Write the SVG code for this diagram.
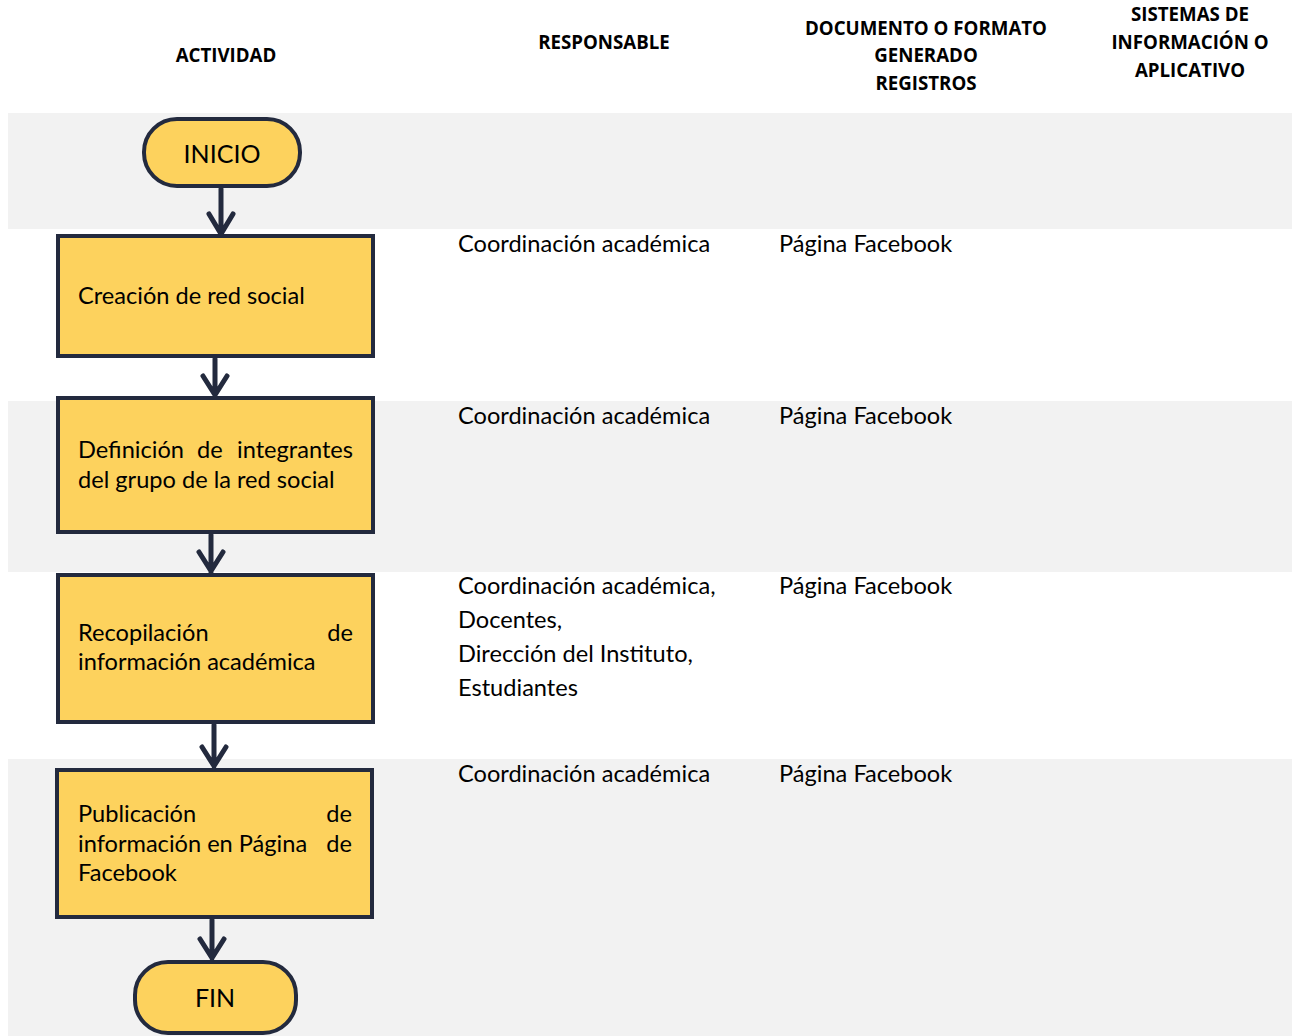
<svg xmlns="http://www.w3.org/2000/svg" width="1292" height="1036" viewBox="0 0 1292 1036">
<style>
.band{fill:#f2f2f2}
.box{fill:#fdd25d;stroke:#232a3e;stroke-width:4}
.hd{font-family:"Open Sans","Liberation Sans",sans-serif;font-weight:bold;font-size:18.7px;fill:#000;text-anchor:middle}
.tx{font-family:Lato,"Noto Sans",sans-serif;font-size:23.6px;fill:#000}
.term{font-family:Lato,"Noto Sans",sans-serif;font-size:25px;fill:#000;text-anchor:middle}
.con{fill:none;stroke:#232a3e;stroke-width:5;stroke-linecap:round;stroke-linejoin:round}
</style>
<rect width="1292" height="1036" fill="#fff"/>
<g id="bands">
<rect class="band" x="8" y="113" width="1284" height="116"/>
<rect class="band" x="8" y="401" width="1284" height="171"/>
<rect class="band" x="8" y="759" width="1284" height="277"/>
</g>
<g id="headers">
<text class="hd" x="226" y="62">ACTIVIDAD</text>
<text class="hd" x="604" y="49">RESPONSABLE</text>
<text class="hd" x="926" y="35">DOCUMENTO  O FORMATO</text>
<text class="hd" x="926" y="62">GENERADO</text>
<text class="hd" x="926" y="90">REGISTROS</text>
<text class="hd" x="1190" y="21">SISTEMAS DE</text>
<text class="hd" x="1190" y="49">INFORMACIÓN O</text>
<text class="hd" x="1190" y="77">APLICATIVO</text>
</g>
<g id="connectors">
<path class="con" d="M221 189V233M209 214L221 234L233 214"/>
<path class="con" d="M215 359V395M203 376L215 395L227 376"/>
<path class="con" d="M211 535V572M199 552L211 571L223 552"/>
<path class="con" d="M214 725V766M202 747L214 766L226 747"/>
<path class="con" d="M212 920V958M200 939L212 958L224 939"/>
</g>
<g id="inicio">
<rect class="box" x="144" y="119" width="156" height="67" rx="33"/>
<text class="term" x="222" y="163">INICIO</text>
</g>
<g id="n1">
<rect class="box" x="58" y="236" width="315" height="120"/>
<text class="tx" x="78" y="304">Creación de red social</text>
</g>
<g id="n2">
<rect class="box" x="58" y="398" width="315" height="134"/>
<text class="tx" x="78" y="458">Definición</text>
<text class="tx" x="197" y="458">de</text>
<text class="tx" x="353" y="458" text-anchor="end">integrantes</text>
<text class="tx" x="78" y="488">del grupo de la red social</text>
</g>
<g id="n3">
<rect class="box" x="58" y="575" width="315" height="147"/>
<text class="tx" x="78" y="641">Recopilación</text>
<text class="tx" x="353" y="641" text-anchor="end">de</text>
<text class="tx" x="78" y="670">información académica</text>
</g>
<g id="n4">
<rect class="box" x="57" y="770" width="315" height="147"/>
<text class="tx" x="78" y="822">Publicación</text>
<text class="tx" x="352" y="822" text-anchor="end">de</text>
<text class="tx" x="78" y="852">información en Página</text>
<text class="tx" x="352" y="852" text-anchor="end">de</text>
<text class="tx" x="78" y="881">Facebook</text>
</g>
<g id="fin">
<rect class="box" x="135" y="962" width="161" height="71" rx="33"/>
<text class="term" x="215" y="1007">FIN</text>
</g>
<g id="cells">
<text class="tx" x="458" y="252">Coordinación académica</text>
<text class="tx" x="779" y="252">Página Facebook</text>
<text class="tx" x="458" y="424">Coordinación académica</text>
<text class="tx" x="779" y="424">Página Facebook</text>
<text class="tx" x="458" y="594">Coordinación académica,</text>
<text class="tx" x="458" y="628">Docentes,</text>
<text class="tx" x="458" y="662">Dirección del Instituto,</text>
<text class="tx" x="458" y="696">Estudiantes</text>
<text class="tx" x="779" y="594">Página Facebook</text>
<text class="tx" x="458" y="782">Coordinación académica</text>
<text class="tx" x="779" y="782">Página Facebook</text>
</g>
</svg>
